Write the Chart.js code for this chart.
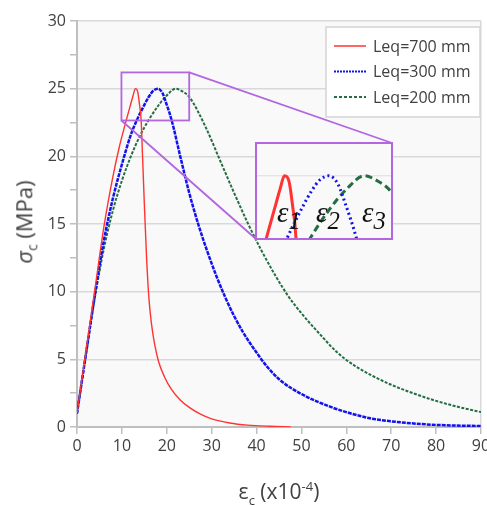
<!DOCTYPE html>
<html>
<head>
<meta charset="utf-8">
<script src="https://cdn.jsdelivr.net/npm/chart.js@4/dist/chart.umd.min.js"></script>
<style>
  html, body { margin: 0; padding: 0; background: #fff; overflow: hidden; }
  #wrap { position: relative; width: 487px; height: 506px; overflow: hidden; }
  #main { position: absolute; left: 0; top: 0; }
  #insetBox { position: absolute; left: 255px; top: 142px; width: 134px; height: 94px;
    border: 2px solid #b266e0; background: #f9f9f9; }
  #inset { display: block; }
  .title { position: absolute; font-family: "Open Sans", sans-serif; color: #404040; white-space: nowrap; }
  .title sub, .title sup { font-size: 0.62em; }
  #ytitle { left: 25px; top: 222px; font-size: 22px; transform: translate(-50%, -50%) rotate(-90deg); }
  #xtitle { left: 279px; top: 493px; font-size: 21px; transform: translate(-50%, -50%); }
  .eps { position: absolute; font-family: "Liberation Serif", "DejaVu Serif", serif; font-style: italic;
    font-size: 29px; line-height: 1; color: #111; }
  .eps span { font-size: 0.85em; position: relative; top: 0.3em; }
</style>
</head>
<body>
<div id="wrap">
  <canvas id="main" width="495" height="506"></canvas>
  <div id="insetBox"><canvas id="inset" width="134" height="94"></canvas></div>
  <div class="eps" style="left:277px; top:198px;">ε<span>1</span></div>
  <div class="eps" style="left:316px; top:198px;">ε<span>2</span></div>
  <div class="eps" style="left:362px; top:198px;">ε<span>3</span></div>
  <div class="title" id="ytitle"><i>σ</i><sub>c</sub> (MPa)</div>
  <div class="title" id="xtitle">ε<sub>c</sub> (x10<sup>-4</sup>)</div>
</div>
<script>
// lecturas aproximadas de la figura: deformación (x10^-4) y tensión (MPa)
const labels = ['Leq=700 mm', 'Leq=300 mm', 'Leq=200 mm'];

const strain700 = [0, 2, 4, 6, 8, 9.5, 11, 12, 12.5, 13, 13.5, 13.9, 14.3, 14.6, 15.0, 15.5, 16.0, 16.6, 17.3, 18.2, 19.5, 21, 23, 25, 27.5, 30, 34, 38, 43, 47.7];
const stress700 = [1, 5.6, 10.2, 14.8, 18.5, 20.8, 22.7, 23.9, 24.5, 25, 24.8, 23.9, 22.6, 20, 16.5, 12.5, 9.6, 7.6, 6.1, 4.8, 3.7, 2.8, 2.0, 1.45, 0.95, 0.6, 0.3, 0.14, 0.05, 0];

const strain300 = [0, 2, 4, 6, 8, 10, 12, 13.3, 15, 16, 17, 18, 19, 19.9, 21.1, 23, 25, 27, 29, 31, 33, 35, 37, 40, 42.5, 45.3, 50.5, 56.4, 60, 65.3, 70, 76.5, 82, 90];
const stress300 = [1, 5.4, 9.8, 13.8, 16.9, 19.4, 21.6, 22.65, 23.8, 24.4, 24.85, 25, 24.7, 23.9, 22.65, 20, 17.3, 15.0, 13.0, 11.2, 9.6, 8.2, 7.0, 5.5, 4.4, 3.45, 2.35, 1.5, 1.1, 0.64, 0.42, 0.22, 0.13, 0.07];

const strain200 = [0, 2, 4, 6, 8, 10, 12, 14, 16, 18, 20, 22, 23.5, 25, 28.6, 32, 35, 38, 41, 44, 47, 50, 54, 58, 62, 66, 70, 75, 80, 85, 90];
const stress200 = [1, 5.4, 9.6, 13.2, 16.0, 18.2, 20.0, 21.5, 22.7, 23.7, 24.5, 25, 24.8, 24.4, 22.2, 19.6, 17.3, 15.1, 13.1, 11.3, 9.7, 8.4, 6.9, 5.5, 4.5, 3.75, 3.12, 2.48, 1.93, 1.48, 1.1];

const colors = ['#ff3333', '#1212ee', '#256e42'];

// ventana del zoom (en unidades de datos)
const zoomX = [9.9, 25];
const zoomY = [22.65, 26.2];

function pts(xs, ys) { return xs.map((x, i) => ({ x, y: ys[i] })); }

function makeDatasets(big) {
  const series = [[strain700, stress700], [strain300, stress300], [strain200, stress200]];
  const widths = big ? [3, 3, 3] : [1.4, 2.5, 2];
  const dashes = big ? [[], [2, 3], [7, 4]] : [[], [4, 1], [3, 1.5]];
  return series.map((s, i) => ({
    label: labels[i],
    data: pts(s[0], s[1]),
    borderColor: colors[i],
    borderWidth: widths[i],
    borderDash: dashes[i],
    pointRadius: 0,
    cubicInterpolationMode: 'monotone',
    fill: false
  }));
}

const plotBg = {
  id: 'plotBg',
  beforeDraw(chart) {
    const a = chart.chartArea, c = chart.ctx;
    c.save();
    c.fillStyle = '#f9f9f9';
    c.fillRect(a.left, a.top, a.right - a.left, a.bottom - a.top);
    c.restore();
  }
};

// rectángulo de zoom + líneas hacia el recuadro ampliado
const insetPx = { left: 256, top: 143, right: 392, bottom: 239 };
const zoomMarks = {
  id: 'zoomMarks',
  afterDatasetsDraw(chart) {
    const xs = chart.scales.x, ys = chart.scales.y, c = chart.ctx;
    const l = xs.getPixelForValue(zoomX[0]), r = xs.getPixelForValue(zoomX[1]);
    const t = ys.getPixelForValue(zoomY[1]), b = ys.getPixelForValue(zoomY[0]);
    c.save();
    c.strokeStyle = '#b266e0';
    c.lineWidth = 1.8;
    c.strokeRect(l, t, r - l, b - t);
    c.beginPath();
    c.moveTo(r, t); c.lineTo(insetPx.right, insetPx.top);
    c.moveTo(l, b); c.lineTo(insetPx.left, insetPx.bottom);
    c.stroke();
    c.restore();
  }
};

// leyenda dentro del área de trazado
const boxLegend = {
  id: 'boxLegend',
  afterDraw(chart) {
    const c = chart.ctx;
    c.save();
    c.fillStyle = '#ffffff';
    c.strokeStyle = '#d4d4d4';
    c.lineWidth = 1.5;
    c.fillRect(326, 27, 154, 90);
    c.strokeRect(326, 27, 154, 90);
    const rows = [46, 71.5, 97];
    chart.data.datasets.forEach((ds, i) => {
      c.beginPath();
      c.strokeStyle = ds.borderColor;
      c.lineWidth = i === 0 ? 1.5 : 2;
      c.setLineDash(i === 0 ? [] : (i === 1 ? [2, 1] : [3, 2]));
      c.moveTo(334, rows[i]); c.lineTo(366, rows[i]);
      c.stroke();
      c.setLineDash([]);
      c.fillStyle = '#404040';
      c.font = '16px "Open Sans"';
      c.textBaseline = 'middle';
      c.fillText(ds.label, 373, rows[i] + 1);
    });
    c.restore();
  }
};

new Chart(document.getElementById('main'), {
  type: 'line',
  data: { datasets: makeDatasets(false) },
  options: {
    responsive: false,
    animation: false,
    layout: { padding: { top: 21, right: 14, bottom: 49, left: 0 } },
    plugins: { legend: { display: false }, tooltip: { enabled: false } },
    scales: {
      x: {
        type: 'linear', min: 0, max: 90,
        ticks: { stepSize: 10, color: '#404040', font: { family: 'Open Sans', size: 16 }, padding: 3, maxRotation: 0 },
        grid: { color: ctx => ctx.tick && ctx.tick.value === 90 ? '#d9d9d9' : 'transparent', tickColor: '#bfbfbf', tickLength: 7, lineWidth: 1.5 },
        border: { color: '#bfbfbf', width: 2 },
        afterFit: s => { s.height = 30; }
      },
      y: {
        min: 0, max: 30,
        ticks: { stepSize: 2.5, color: '#404040', font: { family: 'Open Sans', size: 16 }, padding: 4,
          callback: v => (v % 5 === 0 ? v : '') },
        grid: { color: ctx => ctx.tick && ctx.tick.value % 5 === 0 ? '#d9d9d9' : 'transparent', tickColor: '#bfbfbf', tickLength: 7, lineWidth: 1.5 },
        border: { color: '#bfbfbf', width: 2 },
        afterFit: s => { s.width = 77; }
      }
    }
  },
  plugins: [plotBg, zoomMarks, boxLegend]
});

// recuadro ampliado: mismos datos, ventana del zoom
const insetGrid = {
  id: 'insetGrid',
  beforeDatasetsDraw(chart) {
    const y = chart.scales.y.getPixelForValue(25), c = chart.ctx;
    c.save();
    c.strokeStyle = '#dcdcdc';
    c.lineWidth = 1.2;
    c.beginPath(); c.moveTo(0, y); c.lineTo(chart.width, y); c.stroke();
    c.restore();
  }
};

new Chart(document.getElementById('inset'), {
  type: 'line',
  data: { datasets: makeDatasets(true) },
  options: {
    responsive: false,
    animation: false,
    layout: { padding: 0 },
    plugins: { legend: { display: false }, tooltip: { enabled: false } },
    scales: {
      x: { type: 'linear', min: zoomX[0], max: zoomX[1], display: false },
      y: { min: zoomY[0], max: zoomY[1], display: false }
    }
  },
  plugins: [insetGrid]
});
</script>
</body>
</html>
